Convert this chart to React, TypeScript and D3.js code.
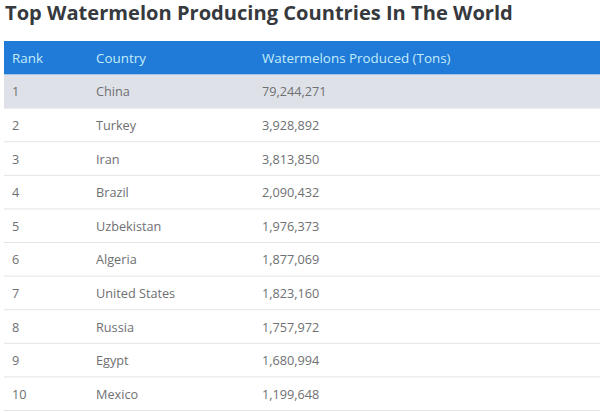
import { useEffect, useRef } from 'react'
import * as d3 from 'd3'

const title = 'Top Watermelon Producing Countries In The World'
const columns = ['Rank', 'Country', 'Watermelons Produced (Tons)']
const ranks = ['1', '2', '3', '4', '5', '6', '7', '8', '9', '10']
const countries = ['China', 'Turkey', 'Iran', 'Brazil', 'Uzbekistan', 'Algeria', 'United States', 'Russia', 'Egypt', 'Mexico']
const tons = [79244271, 3928892, 3813850, 2090432, 1976373, 1877069, 1823160, 1757972, 1680994, 1199648]

const width = 600
const height = 413
const font = '"Open Sans", "Noto Sans", sans-serif'

const App = () => {
    const svgRef = useRef<SVGSVGElement>(null)

    useEffect(() => {
        if (!svgRef.current) return
        const svg = d3.select(svgRef.current)
        svg.selectAll('*').remove()

        const fmt = d3.format(',')
        const columnX = d3.scaleOrdinal<string, number>().domain(columns).range([12, 96, 262])
        // header band and rows share one band scale
        const y = d3
            .scaleBand<string>()
            .domain(['header', ...ranks])
            .range([41, 410.5])

        svg.append('rect').attr('width', width).attr('height', height).attr('fill', '#fff')

        svg.append('text')
            .attr('x', 5)
            .attr('y', 20)
            .attr('font-family', font)
            .attr('font-size', 20.1)
            .attr('font-weight', 700)
            .attr('fill', '#36393d')
            .text(title)

        svg.append('rect')
            .attr('x', 4)
            .attr('y', y('header')!)
            .attr('width', width - 4)
            .attr('height', y.bandwidth())
            .attr('fill', '#1f7ad8')

        svg.selectAll('.head')
            .data(columns)
            .join('text')
            .attr('class', 'head')
            .attr('x', d => columnX(d))
            .attr('y', y('header')! + y.bandwidth() / 2 + 5)
            .attr('font-family', font)
            .attr('font-size', 13.4)
            .attr('fill', '#c4ecf8')
            .text(d => d)

        const rows = svg
            .selectAll('.row')
            .data(ranks)
            .join('g')
            .attr('class', 'row')
            .attr('transform', d => `translate(0,${y(d)})`)

        rows.filter((_, i) => i === 0)
            .append('rect')
            .attr('x', 4)
            .attr('width', width - 4)
            .attr('height', y.bandwidth())
            .attr('fill', '#dfe1e8')

        rows.append('line')
            .attr('x1', 4)
            .attr('x2', width)
            .attr('y1', y.bandwidth())
            .attr('y2', y.bandwidth())
            .attr('stroke', '#e3e4e6')

        const cell = (i: number, text: (d: string, n: number) => string) =>
            rows.append('text')
                .attr('x', columnX(columns[i]))
                .attr('y', y.bandwidth() / 2 + 5)
                .attr('font-family', font)
                .attr('font-size', 12.7)
                .attr('fill', '#6e7072')
                .text(text)

        cell(0, d => d)
        cell(1, (_, n) => countries[n])
        cell(2, (_, n) => fmt(tons[n]))
    }, [])

    return (
        <svg
            ref={svgRef}
            width={width}
            height={height}
            style={{ position: 'absolute', top: 0, left: 0 }}
        ></svg>
    )
}

export default App
